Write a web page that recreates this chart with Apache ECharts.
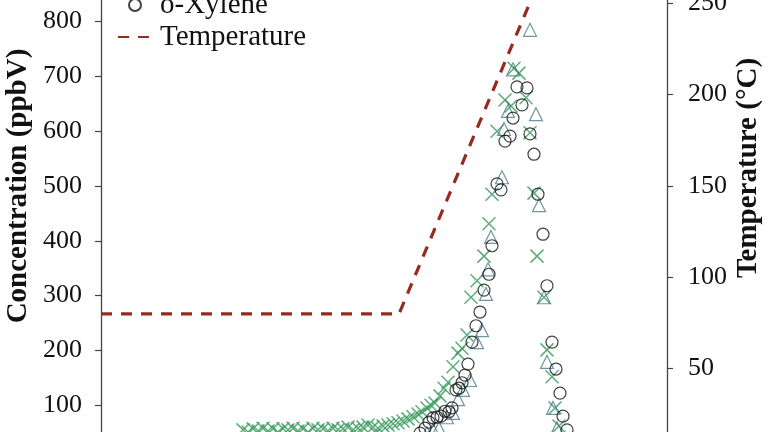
<!DOCTYPE html>
<html>
<head>
<meta charset="utf-8">
<script src="https://cdn.jsdelivr.net/npm/echarts@6/dist/echarts.min.js"></script>
<style>
html,body{margin:0;padding:0;background:#fff;}
#chart{width:768px;height:432px;}
</style>
</head>
<body>
<div id="chart"></div>
<script>
// time axis (hidden) in arbitrary time units
const crossTime = [28.4,29.4,30.4,31.4,32.4,33.4,34.4,35.4,36.4,37.4,38.4,39.4,40.4,41.4,42.4,43.4,44.4,45.4,46.4,47.4,48.4,49.4,50.4,51.4,52.4,53.4,54.4,55.4,56.4,57.4,58.4,59.4,60.4,61.4,62.4,63.4,64.2,65.2,66.0,66.8,67.8,68.6,69.4,70.4,71.4,72.2,73.2,74.0,75.2,76.6,77.6,78.2,79.2,80.8,82.0,82.6,83.6,85.0,85.8,86.6,87.2,88.6,89.2,90.2,90.8,91.6,92.4];
const crossConc = [55,51,57,53,58,53,57,51,57,55,58,53,57,51,58,55,57,53,58,55,57,60,55,58,60,64,60,58,62,64,66,68,71,75,79,84,88,95,100,104,117,131,142,170,195,204,228,297,327,372,431,485,600,657,646,715,706,661,597,487,372,297,201,152,95,62,35];

const triTime = [65.2,66.4,67.6,69.2,70.4,71.4,72.4,73.8,75.2,76.2,77.0,77.4,78.0,80.2,80.6,81.4,82.4,85.8,87.0,87.6,88.6,89.2,90.4,91.2,92.0];
const triConc = [49,55,58,78,86,111,128,146,215,237,303,348,407,516,604,637,713,785,631,465,297,179,95,58,35];

const oxyTime = [63.8,64.8,65.6,66.4,67.2,68.0,68.8,69.6,70.2,71.0,71.6,72.2,72.8,73.4,74.2,75.0,75.8,76.6,77.6,78.2,79.2,80.0,80.8,81.8,82.4,83.2,84.2,85.2,85.8,86.6,87.4,88.4,89.2,90.2,91.0,91.8,92.4,93.2,94.0];
const oxyConc = [49,58,69,77,78,80,89,88,95,128,131,141,155,175,215,245,270,310,339,391,504,493,582,591,624,681,648,679,595,558,485,412,318,215,166,122,80,55,35];

const tempTime = [0, 59.6, 88.8];
const tempValue = [80, 80, 270];

const concAxis = {min: 0, max: 1000, interval: 100, name: 'Concentration (ppbV)'};
const tempAxis = {min: 0, max: 300, interval: 50, name: 'Temperature (\u00B0C)'};

const FONT = '"Liberation Serif", "Times New Roman", serif';
const zip = (a, b) => a.map((v, i) => [v, b[i]]);

const chart = echarts.init(document.getElementById('chart'), null, {renderer: 'canvas'});
const axisCommon = {
  type: 'value',
  splitLine: {show: false},
  axisLine: {show: true, lineStyle: {color: '#444', width: 1.3}},
  axisTick: {show: true, inside: false, length: 6, lineStyle: {color: '#444', width: 1.2}},
  nameLocation: 'middle',
  nameRotate: 90,
  nameMoveOverlap: false,
  nameTextStyle: {fontFamily: FONT, fontWeight: 'bold', fontSize: 29, color: '#111'}
};
chart.setOption({
  animation: false,
  backgroundColor: '#fff',
  grid: {left: 101, right: 101, top: -88, bottom: -28, containLabel: false, outerBoundsMode: 'none'},
  legend: {
    orient: 'vertical', left: 112, top: -15,
    itemWidth: 34, itemHeight: 12, itemGap: 2,
    textStyle: {fontFamily: FONT, fontSize: 29, color: '#111', lineHeight: 30, padding: [0,0,0,3]},
    data: ['o-Xylene', 'Temperature']
  },
  xAxis: {type: 'value', min: 0, max: 113.2, show: false},
  yAxis: [
    Object.assign({}, axisCommon, {
      position: 'left', min: concAxis.min, max: concAxis.max, interval: concAxis.interval,
      name: concAxis.name, nameGap: 68,
      axisLabel: {fontFamily: FONT, fontSize: 26, color: '#111', margin: 19}
    }),
    Object.assign({}, axisCommon, {
      position: 'right', min: tempAxis.min, max: tempAxis.max, interval: tempAxis.interval,
      name: tempAxis.name, nameGap: 67,
      nameTextStyle: Object.assign({}, axisCommon.nameTextStyle, {padding: [0,0,0,36]}),
      axisLabel: {fontFamily: FONT, fontSize: 26, color: '#111', margin: 21}
    })
  ],
  series: [
    {
      name: 'Ethylbenzene', type: 'scatter', yAxisIndex: 0,
      symbol: 'path://M0,0L10,10M10,0L0,10', symbolSize: 13,
      itemStyle: {color: 'none', borderColor: '#34985a', borderWidth: 1.5},
      data: zip(crossTime, crossConc)
    },
    {
      name: 'm,p-Xylene', type: 'scatter', yAxisIndex: 0,
      symbol: 'triangle', symbolSize: 13,
      itemStyle: {color: 'none', borderColor: '#4c7a8c', borderWidth: 1.2},
      data: zip(triTime, triConc)
    },
    {
      name: 'o-Xylene', type: 'scatter', yAxisIndex: 0,
      symbol: 'circle', symbolSize: 12,
      itemStyle: {color: 'none', borderColor: '#111', borderWidth: 1.2},
      data: zip(oxyTime, oxyConc)
    },
    {
      name: 'Temperature', type: 'line', yAxisIndex: 1,
      symbol: 'none', silent: true,
      itemStyle: {color: 'rgba(0,0,0,0)', borderWidth: 0},
      lineStyle: {color: '#952b1f', width: 3.2, type: [11, 9]},
      data: zip(tempTime, tempValue)
    }
  ]
});
</script>
</body>
</html>
